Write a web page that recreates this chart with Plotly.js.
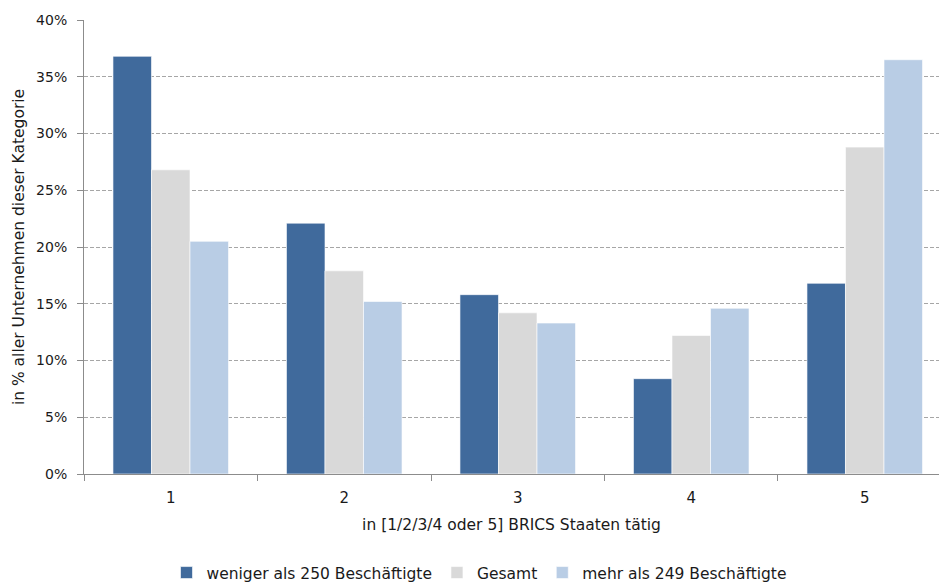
<!DOCTYPE html>
<html>
<head>
<meta charset="utf-8">
<script src="https://cdn.plot.ly/plotly-3.0.1.min.js"></script>
<style>html,body{margin:0;padding:0;background:#fff;overflow:hidden}</style>
</head>
<body>
<div id="chart" style="width:939px;height:582px"></div>
<script>
const categories = ["1", "2", "3", "4", "5"];
const seriesNames = ["weniger als 250 Beschäftigte", "Gesamt", "mehr als 249 Beschäftigte"];
const wenigerAls250 = [0.368, 0.221, 0.158, 0.084, 0.168];
const gesamt = [0.268, 0.179, 0.142, 0.122, 0.288];
const mehrAls249 = [0.205, 0.152, 0.133, 0.146, 0.365];
const yTickVals = [0, 0.05, 0.10, 0.15, 0.20, 0.25, 0.30, 0.35, 0.40];
const yTickText = ["0%", "5%", "10%", "15%", "20%", "25%", "30%", "35%", "40%"];

const colors = ["#406a9c", "#d9d9d9", "#b9cde5"];
const values = [wenigerAls250, gesamt, mehrAls249];

const FONT = "DejaVu Sans, sans-serif";
const TXT = "#1a1a1a";

const data = values.map((v, i) => ({
  type: "bar",
  name: seriesNames[i],
  x: categories,
  y: v,
  marker: { color: colors[i], line: { color: "rgba(255,255,255,0.6)", width: 1 } },
  hoverinfo: "skip"
}));

const layout = {
  width: 939,
  height: 582,
  margin: { l: 84, r: 0, t: 20, b: 108, autoexpand: false },
  paper_bgcolor: "#ffffff",
  plot_bgcolor: "#ffffff",
  font: { family: FONT, size: 15, color: TXT },
  barmode: "group",
  bargap: 0.334,
  bargroupgap: 0,
  showlegend: true,
  legend: {
    orientation: "h",
    x: 0.462, xanchor: "center",
    y: -0.218, yanchor: "middle",
    font: { family: FONT, size: 15.5, color: TXT },
    itemwidth: 30,
    traceorder: "normal"
  },
  xaxis: {
    type: "category",
    range: [-0.5, 4.428],
    automargin: false,
    showline: true,
    linecolor: "#8c8c8c",
    linewidth: 1,
    ticks: "outside",
    tickson: "boundaries",
    ticklen: 6,
    tickcolor: "#8c8c8c",
    ticklabelstandoff: 10,
    showgrid: false,
    zeroline: false,
    tickfont: { family: FONT, size: 15, color: TXT },
    title: { text: "in [1/2/3/4 oder 5] BRICS Staaten tätig", font: { family: FONT, size: 15.5, color: TXT }, standoff: 13 }
  },
  yaxis: {
    range: [0, 0.40],
    automargin: false,
    tickvals: yTickVals,
    ticktext: yTickText,
    showline: true,
    linecolor: "#8c8c8c",
    linewidth: 1,
    ticks: "outside",
    ticklen: 6,
    tickcolor: "#8c8c8c",
    ticklabelstandoff: 7,
    showgrid: true,
    gridcolor: "#a6a6a6",
    griddash: "4px,2px",
    gridwidth: 1,
    zeroline: false,
    tickfont: { family: FONT, size: 14, color: TXT },
    title: { text: "in % aller Unternehmen dieser Kategorie", font: { family: FONT, size: 15.5, color: TXT }, standoff: 7 }
  }
};

Plotly.newPlot("chart", data, layout, { displayModeBar: false, staticPlot: true });
</script>
</body>
</html>
